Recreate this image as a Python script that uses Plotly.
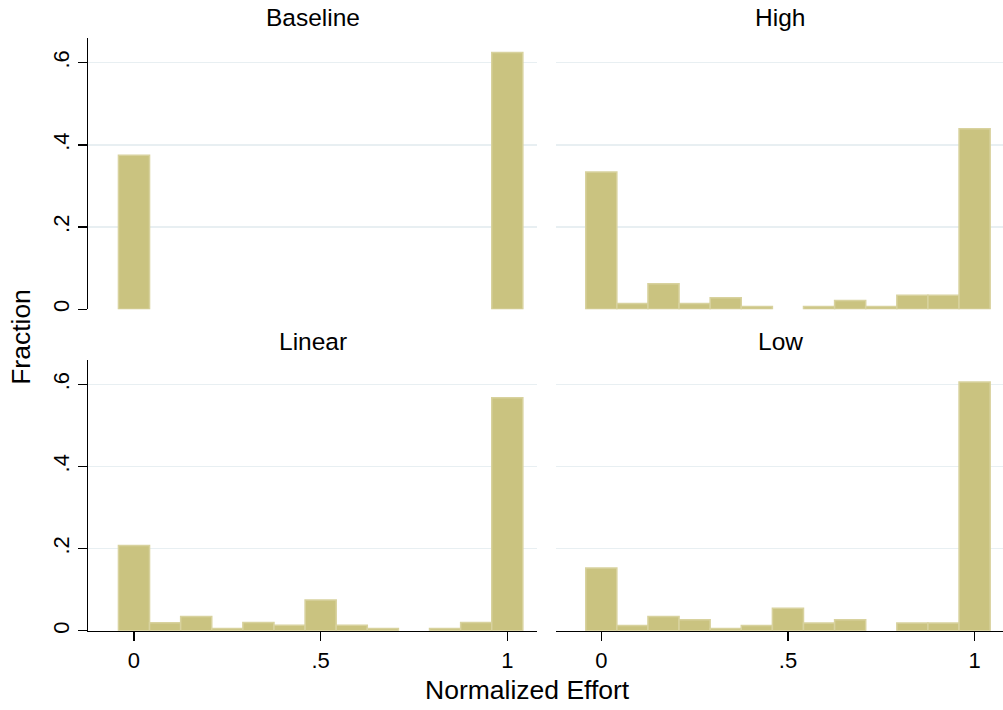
import plotly.graph_objects as go

# ---- data ----
bin_centers = [k / 12 for k in range(13)]
panel_titles = ["Baseline", "High", "Linear", "Low"]
baseline = [0.375, 0, 0, 0, 0, 0, 0, 0, 0, 0, 0, 0, 0.625]
high = [0.334, 0.0137, 0.062, 0.0137, 0.028, 0.0065, 0, 0.0065, 0.021, 0.0065, 0.034, 0.034, 0.439]
linear = [0.2075, 0.0194, 0.0347, 0.0057, 0.020, 0.0137, 0.075, 0.0137, 0.0057, 0, 0.0057, 0.020, 0.5677]
low = [0.153, 0.013, 0.035, 0.027, 0.0057, 0.013, 0.055, 0.019, 0.027, 0, 0.019, 0.019, 0.606]
y_ticks = [0, 0.2, 0.4, 0.6]
y_ticktext = ["0", ".2", ".4", ".6"]
x_ticks = [0, 0.5, 1]
x_ticktext = ["0", ".5", "1"]
x_title = "Normalized Effort"
y_title = "Fraction"

W, H = 1003, 710
FONT = "Liberation Sans, Arial, sans-serif"
FILL = "#cac380"
EDGE = "#d8d29e"
GRID = "#e8eff2"

fig = go.Figure()

series = [baseline, high, linear, low]
axes = [("x", "y"), ("x2", "y2"), ("x3", "y3"), ("x4", "y4")]
for vals, (xa, ya) in zip(series, axes):
    fig.add_trace(go.Bar(
        x=bin_centers,
        y=[v if v > 0 else None for v in vals],
        width=1 / 12,
        marker=dict(color=FILL, line=dict(color=EDGE, width=1.5)),
        xaxis=xa, yaxis=ya, showlegend=False, hoverinfo="x+y",
    ))

# pixel geometry
left_dom = [88.3 / W, 537.3 / W]
right_dom = [555.6 / W, 1.0]
top_dom = [(H - 310.5) / H, (H - 38) / H]
bot_dom = [(H - 633.5) / H, (H - 361.7) / H]
xr_left = [-0.1224, 1.0804]
xr_right = [-0.1224, 1.0761]
yr_top = [0, 0.6606]
yr_bot = [0, 0.659]

tickfont = dict(family=FONT, size=22, color="black")


def yaxis(dom, rng, show):
    d = dict(domain=dom, range=rng, tickvals=y_ticks, ticktext=y_ticktext,
             showgrid=True, gridcolor=GRID, gridwidth=1.5, zeroline=False,
             fixedrange=True)
    if show:
        d.update(showline=True, linecolor="black", linewidth=1.3, ticks="outside",
                 ticklen=9, tickwidth=1.3, tickcolor="black", tickangle=-90,
                 tickfont=tickfont, showticklabels=True)
    else:
        d.update(showline=False, ticks="", showticklabels=False)
    return d


def xaxis(dom, rng, show, anchor):
    d = dict(domain=dom, range=rng, tickvals=x_ticks, ticktext=x_ticktext,
             showgrid=False, zeroline=False, anchor=anchor, fixedrange=True)
    if show:
        d.update(showline=True, linecolor="black", linewidth=1.3, ticks="outside",
                 ticklen=9, tickwidth=1.3, tickcolor="black", tickfont=tickfont,
                 showticklabels=True)
    else:
        d.update(showline=False, ticks="", showticklabels=False)
    return d


fig.update_layout(
    width=W, height=H,
    margin=dict(l=0, r=0, t=0, b=0),
    paper_bgcolor="white", plot_bgcolor="white",
    bargap=0,
    xaxis=xaxis(left_dom, xr_left, False, "y"),
    yaxis=yaxis(top_dom, yr_top, True) | dict(anchor="x"),
    xaxis2=xaxis(right_dom, xr_right, False, "y2"),
    yaxis2=yaxis(top_dom, yr_top, False) | dict(anchor="x2"),
    xaxis3=xaxis(left_dom, xr_left, True, "y3"),
    yaxis3=yaxis(bot_dom, yr_bot, True) | dict(anchor="x3"),
    xaxis4=xaxis(right_dom, xr_right, True, "y4"),
    yaxis4=yaxis(bot_dom, yr_bot, False) | dict(anchor="x4"),
)

title_font = dict(family=FONT, size=24.5, color="black")
centers = [(left_dom[0] + left_dom[1]) / 2, (555.6 + 1004.6) / 2 / W]
title_pos = [(centers[0], 18), (centers[1], 18), (centers[0], 342.5), (centers[1], 342.5)]
for t, (cx, py) in zip(panel_titles, title_pos):
    fig.add_annotation(text=t, x=cx, y=(H - py) / H, xref="paper", yref="paper",
                       xanchor="center", yanchor="middle", showarrow=False, font=title_font)

axis_font = dict(family=FONT, size=26.5, color="black")
fig.add_annotation(text=x_title, x=527 / W, y=(H - 693) / H, xref="paper", yref="paper",
                   xanchor="center", yanchor="middle", showarrow=False, font=axis_font)
fig.add_annotation(text=y_title, x=21.5 / W, y=(H - 338.8) / H, xref="paper", yref="paper",
                   xanchor="center", yanchor="middle", showarrow=False, textangle=-90,
                   font=axis_font)

fig.write_html(
    "out.html",
    config={"displayModeBar": False, "staticPlot": True},
    post_script="document.body.style.margin='0';document.body.style.overflow='hidden';",
)
